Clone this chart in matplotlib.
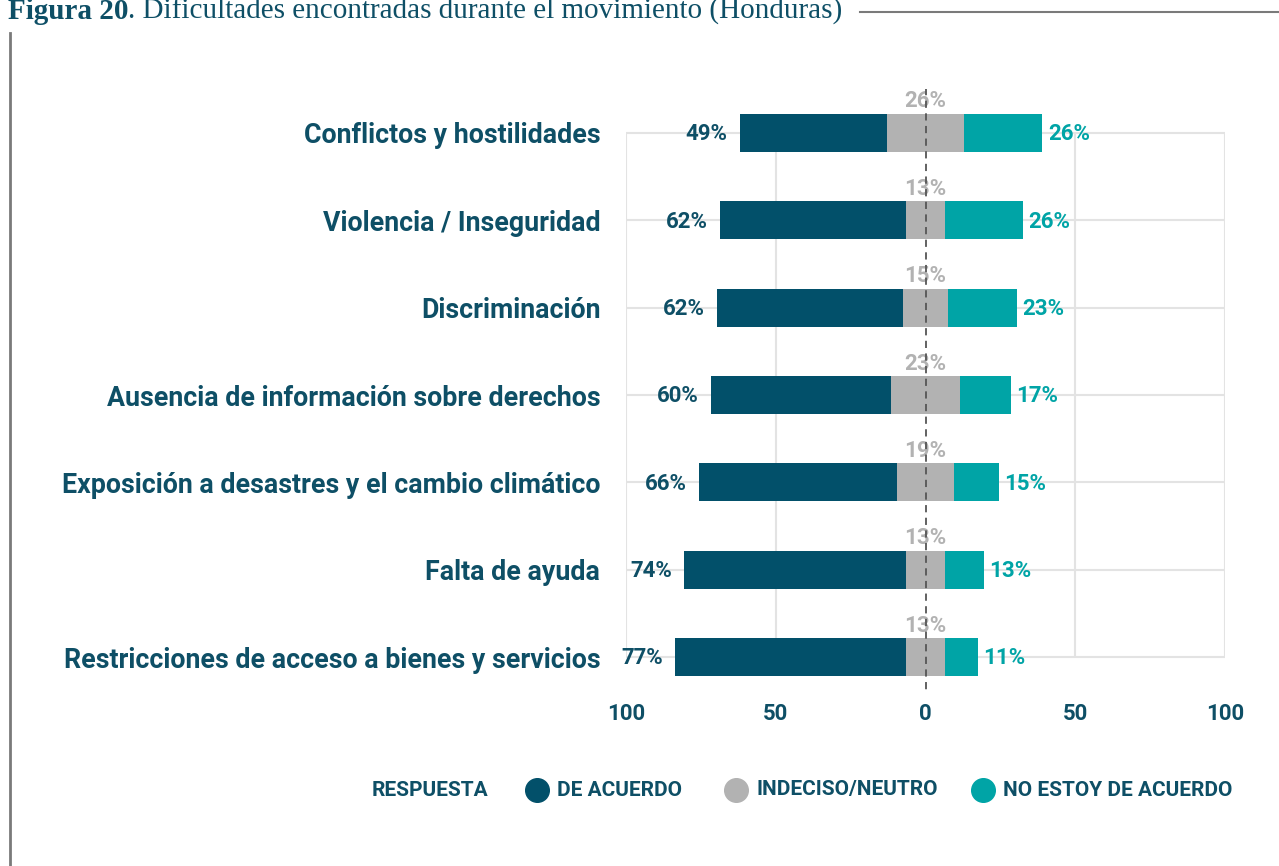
import numpy as np
import matplotlib.pyplot as plt
from matplotlib.lines import Line2D

# Data
categorias = ['Conflictos y hostilidades', 'Violencia / Inseguridad', 'Discriminación',
              'Ausencia de información sobre derechos',
              'Exposición a desastres y el cambio climático', 'Falta de ayuda',
              'Restricciones de acceso a bienes y servicios']
de_acuerdo = [49, 62, 62, 60, 66, 74, 77]
neutro = [26, 13, 15, 23, 19, 13, 13]
desacuerdo = [26, 26, 23, 17, 15, 13, 11]
ticks = [-100, -50, 0, 50, 100]
tick_labels = ['100', '50', '0', '50', '100']
leyenda = ['DE ACUERDO', 'INDECISO/NEUTRO', 'NO ESTOY DE ACUERDO']

c_acuerdo = '#02506a'
c_neutro = '#b2b2b2'
c_desac = '#00a4a6'
c_texto = '#0e4f66'

plt.rcParams['font.family'] = ['Roboto', 'DejaVu Sans']

W, H = 1279, 866
fig = plt.figure(figsize=(W / 100, H / 100), dpi=100)
ax = fig.add_axes([626 / W, 1 - 700.7 / H, 599 / W, 611.4 / H])

y = np.arange(len(categorias))
neu = np.array(neutro)
izq = -neu / 2
h = 0.435

ax.barh(y, -np.array(de_acuerdo), left=izq, height=h, color=c_acuerdo, zorder=3)
ax.barh(y, neu, left=izq, height=h, color=c_neutro, zorder=3)
ax.barh(y, desacuerdo, left=neu / 2, height=h, color=c_desac, zorder=3)

# grid lines
ax.hlines(y, -100, 100, color='#e3e3e3', lw=1.5, zorder=1)
ax.vlines([t for t in ticks if t != 0], 0, len(categorias) - 1, color='#e3e3e3', lw=1.5, zorder=1)
ax.vlines(0, -0.52, len(categorias) - 0.6, color='#555555', lw=1.3, linestyles=(0, (4, 3)), zorder=5)

# labels
for i in range(len(categorias)):
    ax.annotate(f'{de_acuerdo[i]}%', (izq[i] - de_acuerdo[i], y[i]), xytext=(-9, -1),
                textcoords='offset points', ha='right', va='center', fontsize=16,
                fontweight='bold', color=c_texto)
    ax.annotate(f'{desacuerdo[i]}%', (neu[i] / 2 + desacuerdo[i], y[i]), xytext=(4, -1),
                textcoords='offset points', ha='left', va='center', fontsize=16,
                fontweight='bold', color=c_desac)
    ax.annotate(f'{neutro[i]}%', (0, y[i] - h / 2), xytext=(0, 9),
                textcoords='offset points', ha='center', va='center', fontsize=16,
                fontweight='bold', color=c_neutro, zorder=4)

ax.set_xlim(-100, 100)
ax.set_ylim(len(categorias) - 0.5, -0.5)
ax.set_yticks(y)
ax.set_yticklabels(categorias, fontsize=19.3, fontweight='bold', color=c_texto)
ax.set_xticks(ticks)
ax.set_xticklabels(tick_labels, fontsize=16, fontweight='bold', color=c_texto)
ax.tick_params(axis='y', length=0, pad=18.5)
ax.tick_params(axis='x', length=0, pad=2)
for s in ax.spines.values():
    s.set_visible(False)

# title and frame
t1 = fig.text(8 / W, 1 - 19 / H, 'Figura 20', fontsize=21, fontweight='bold',
              family='Liberation Serif', color=c_texto, va='baseline', ha='left')
fig.canvas.draw()
bb = t1.get_window_extent()
fig.text(bb.x1 / W, 1 - 19 / H, '. Dificultades encontradas durante el movimiento (Honduras)',
         fontsize=21, family='Liberation Serif', color=c_texto, va='baseline', ha='left')
fig.add_artist(Line2D([860 / W, 1], [1 - 12 / H] * 2, color='#7a7a7a', lw=1.5))
fig.add_artist(Line2D([10 / W] * 2, [0, 1 - 33 / H], color='#7a7a7a', lw=2))

# legend
ly = 1 - 790 / H
fig.text(372 / W, ly, 'RESPUESTA', fontsize=15, fontweight='bold',
         color=c_texto, va='center', ha='left')
for xm, lab, c in zip([537, 736, 983], leyenda, [c_acuerdo, c_neutro, c_desac]):
    fig.add_artist(Line2D([xm / W], [ly], marker='o', ls='', markersize=17, color=c))
    fig.text((xm + 20) / W, ly, lab, fontsize=15, fontweight='bold',
             color=c_texto, va='center', ha='left')

fig.savefig('out.png', dpi=100)
